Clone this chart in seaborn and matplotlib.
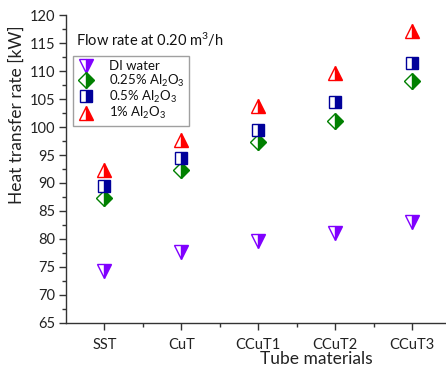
import numpy as np
import pandas as pd
import matplotlib
matplotlib.use("Agg")
import matplotlib.pyplot as plt
from matplotlib.ticker import MultipleLocator, FixedLocator
import seaborn as sns

materials = ["SST", "CuT", "CCuT1", "CCuT2", "CCuT3"]
di_water = [74.2, 77.7, 79.7, 81.0, 83.1]
al_025 = [87.3, 92.3, 97.4, 101.1, 108.2]
al_05 = [89.5, 94.4, 99.5, 104.4, 111.5]
al_1 = [92.4, 97.7, 103.8, 109.7, 117.2]

series_names = ["DI water", "0.25% Al$_2$O$_3$", "0.5% Al$_2$O$_3$", "1% Al$_2$O$_3$"]
series_vals = [di_water, al_025, al_05, al_1]
markers = ["v", "D", "s", "^"]
colors = ["#8000FF", "#008000", "#00009A", "#FF0000"]
sizes = [10, 7.8, 8, 10]

sns.set_style("ticks")
plt.rcParams["font.family"] = ["Lato", "DejaVu Sans"]
plt.rcParams["mathtext.fontset"] = "custom"
plt.rcParams["mathtext.rm"] = "Lato"
plt.rcParams["mathtext.it"] = "Lato:italic"
plt.rcParams["mathtext.bf"] = "Lato:bold"

fig = plt.figure(figsize=(4.46, 3.69), dpi=100)
ax = fig.add_axes([0.148, 0.125, 0.852, 0.834])

pos = np.arange(len(materials))
for name, vals, m, c, s in zip(series_names, series_vals, markers, colors, sizes):
    df = pd.DataFrame({"x": pos, "y": vals})
    sns.lineplot(data=df, x="x", y="y", ax=ax, marker=m, linestyle="",
                 color=c, markersize=s, fillstyle="right",
                 markerfacecolor=c, markerfacecoloralt="white",
                 markeredgecolor=c, markeredgewidth=1.0, label=name,
                 legend=False)

ax.set_xlim(-0.5, 4.44)
ax.set_ylim(65, 120)
ax.set_xticks(pos)
ax.set_xticklabels(materials)
ax.xaxis.set_minor_locator(FixedLocator(pos[:-1] + 0.5))
ax.yaxis.set_major_locator(MultipleLocator(5))
ax.yaxis.set_minor_locator(MultipleLocator(2.5))
ax.tick_params(axis="both", which="major", direction="out", length=5, width=1,
               labelsize=10.5, color="#333333", labelcolor="#222222", pad=3)
ax.tick_params(axis="both", which="minor", direction="out", length=3, width=1,
               color="#333333")
ax.tick_params(axis="x", which="major", pad=6)
for sp in ["top", "right"]:
    ax.spines[sp].set_visible(False)
for sp in ["left", "bottom"]:
    ax.spines[sp].set_color("#333333")
    ax.spines[sp].set_linewidth(1.0)

ax.set_xlabel("Tube materials", fontsize=12.5, color="#222222")
ax.xaxis.set_label_coords(0.66, -0.092)
ax.set_ylabel("Heat transfer rate [kW]", fontsize=12.5, color="#222222")
ax.yaxis.set_label_coords(-0.108, 0.675)

ax.text(0.026, 0.92, "Flow rate at 0.20 m$^3$/h", transform=ax.transAxes,
        fontsize=10.5, va="center", ha="left", color="#111111")

handles = ax.get_lines()
leg = ax.legend(handles=handles, labels=series_names, loc="upper left",
                bbox_to_anchor=(0.018, 0.868), fontsize=9.5, frameon=True,
                fancybox=False, edgecolor="#888888", handlelength=1.3,
                handletextpad=1.1, labelspacing=0.02, borderpad=0.35,
                borderaxespad=0)
leg.get_frame().set_linewidth(1.0)
for t in leg.get_texts():
    t.set_color("#111111")

fig.savefig("out.png", dpi=100, facecolor="white")
